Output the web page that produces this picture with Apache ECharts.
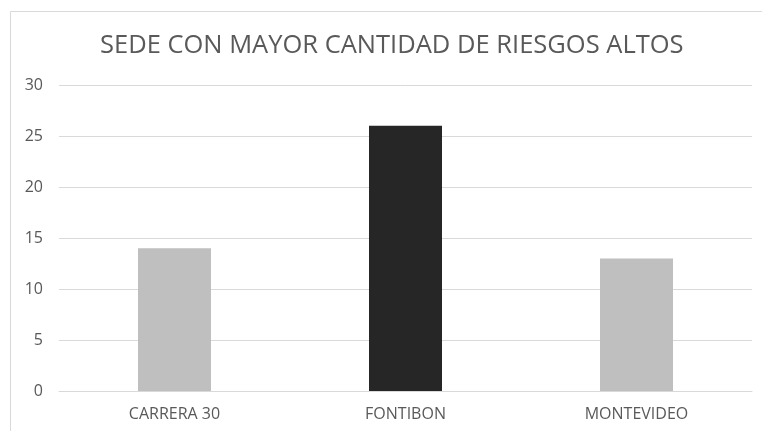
<!DOCTYPE html>
<html>
<head>
<meta charset="utf-8">
<script src="https://cdn.jsdelivr.net/npm/echarts@6/dist/echarts.min.js"></script>
<style>
  html, body { margin: 0; padding: 0; background: #fff; }
  #chart { width: 762px; height: 431px; }
</style>
</head>
<body>
<div id="chart"></div>
<script>
const categories = ['CARRERA 30', 'FONTIBON', 'MONTEVIDEO']
const values = [14, 26, 13]
const barColors = ['#bfbfbf', '#262626', '#bfbfbf']

const chart = echarts.init(document.getElementById('chart'), null, { renderer: 'canvas' })

chart.setOption({
  animation: false,
  backgroundColor: '#ffffff',
  textStyle: { fontFamily: 'Open Sans' },
  title: {
    text: 'SEDE CON MAYOR CANTIDAD DE RIESGOS ALTOS',
    left: 95,
    top: 28,
    textStyle: { fontFamily: 'Open Sans', fontSize: 25.5, fontWeight: 'normal', color: '#595959' }
  },
  graphic: [{
    type: 'rect',
    shape: { x: 10.5, y: 11.5, width: 800, height: 500 },
    style: { fill: 'none', stroke: '#d9d9d9', lineWidth: 1 },
    silent: true
  }],
  grid: { left: 59, right: 10, top: 85, bottom: 40 },
  xAxis: {
    type: 'category',
    data: categories,
    axisLine: { lineStyle: { color: '#d9d9d9' } },
    axisTick: { show: false },
    axisLabel: { color: '#595959', fontSize: 16, margin: 15 }
  },
  yAxis: {
    type: 'value',
    min: 0,
    max: 30,
    interval: 5,
    axisLine: { show: false },
    axisTick: { show: false },
    splitLine: { lineStyle: { color: '#d9d9d9' } },
    axisLabel: { color: '#595959', fontSize: 16, margin: 16 }
  },
  series: [{
    type: 'bar',
    barWidth: '31.6%',
    data: values.map((v, i) => ({ value: v, itemStyle: { color: barColors[i] } }))
  }]
})
</script>
</body>
</html>
